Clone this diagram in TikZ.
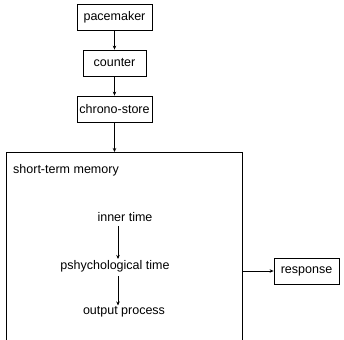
\documentclass[tikz,border=0pt]{standalone}
\usepackage{fontspec}
\setmainfont{Liberation Sans}
\usetikzlibrary{arrows.meta}
\begin{document}
\begin{tikzpicture}[x=1pt,y=-1pt,
  box/.style={draw, line width=0.8pt, minimum height=26pt, inner sep=1pt, font=\fontsize{12.5}{14}\selectfont},
  txt/.style={inner sep=1pt, font=\fontsize{12.5}{14}\selectfont},
  conn/.style={draw, line width=0.8pt, -{Stealth[length=4pt,width=3.5pt]}}]
\useasboundingbox (0,0) rectangle (344,339);
\node[box, minimum width=75pt] (pace) at (114.5,17.5) {pacemaker};
\node[box, minimum width=63pt] (count) at (114.5,63) {counter};
\node[box, minimum width=75pt] (chrono) at (114.5,109) {chrono-store};
\draw[line width=0.8pt] (6,345) |- (242,152) coordinate (stmtr) -- (242,345);
\coordinate (stmtop) at (114.5,152);
\coordinate (stmright) at (242,271);
\node[txt, anchor=west] (stmlabel) at (12,170) {short-term memory};
\node[txt] (inner) at (125,217) {inner time};
\node[txt] (psych) at (115,266) {pshychological time};
\node[txt] (output) at (124,312) {output process};
\node[box, minimum width=65pt] (resp) at (306.5,271) {response};
\draw[conn] (pace) -- (count);
\draw[conn] (count) -- (chrono);
\draw[conn] (chrono) -- (stmtop);
\draw[conn] (inner.south -| 118,0) ++(0,3) coordinate (a1) -- (psych.north -| 118,0);
\draw[conn] (psych.south -| 118,0) ++(0,3) coordinate (a2) -- (output.north -| 118,0);
\draw[conn] (stmright) -- (resp);
\end{tikzpicture}
\end{document}
